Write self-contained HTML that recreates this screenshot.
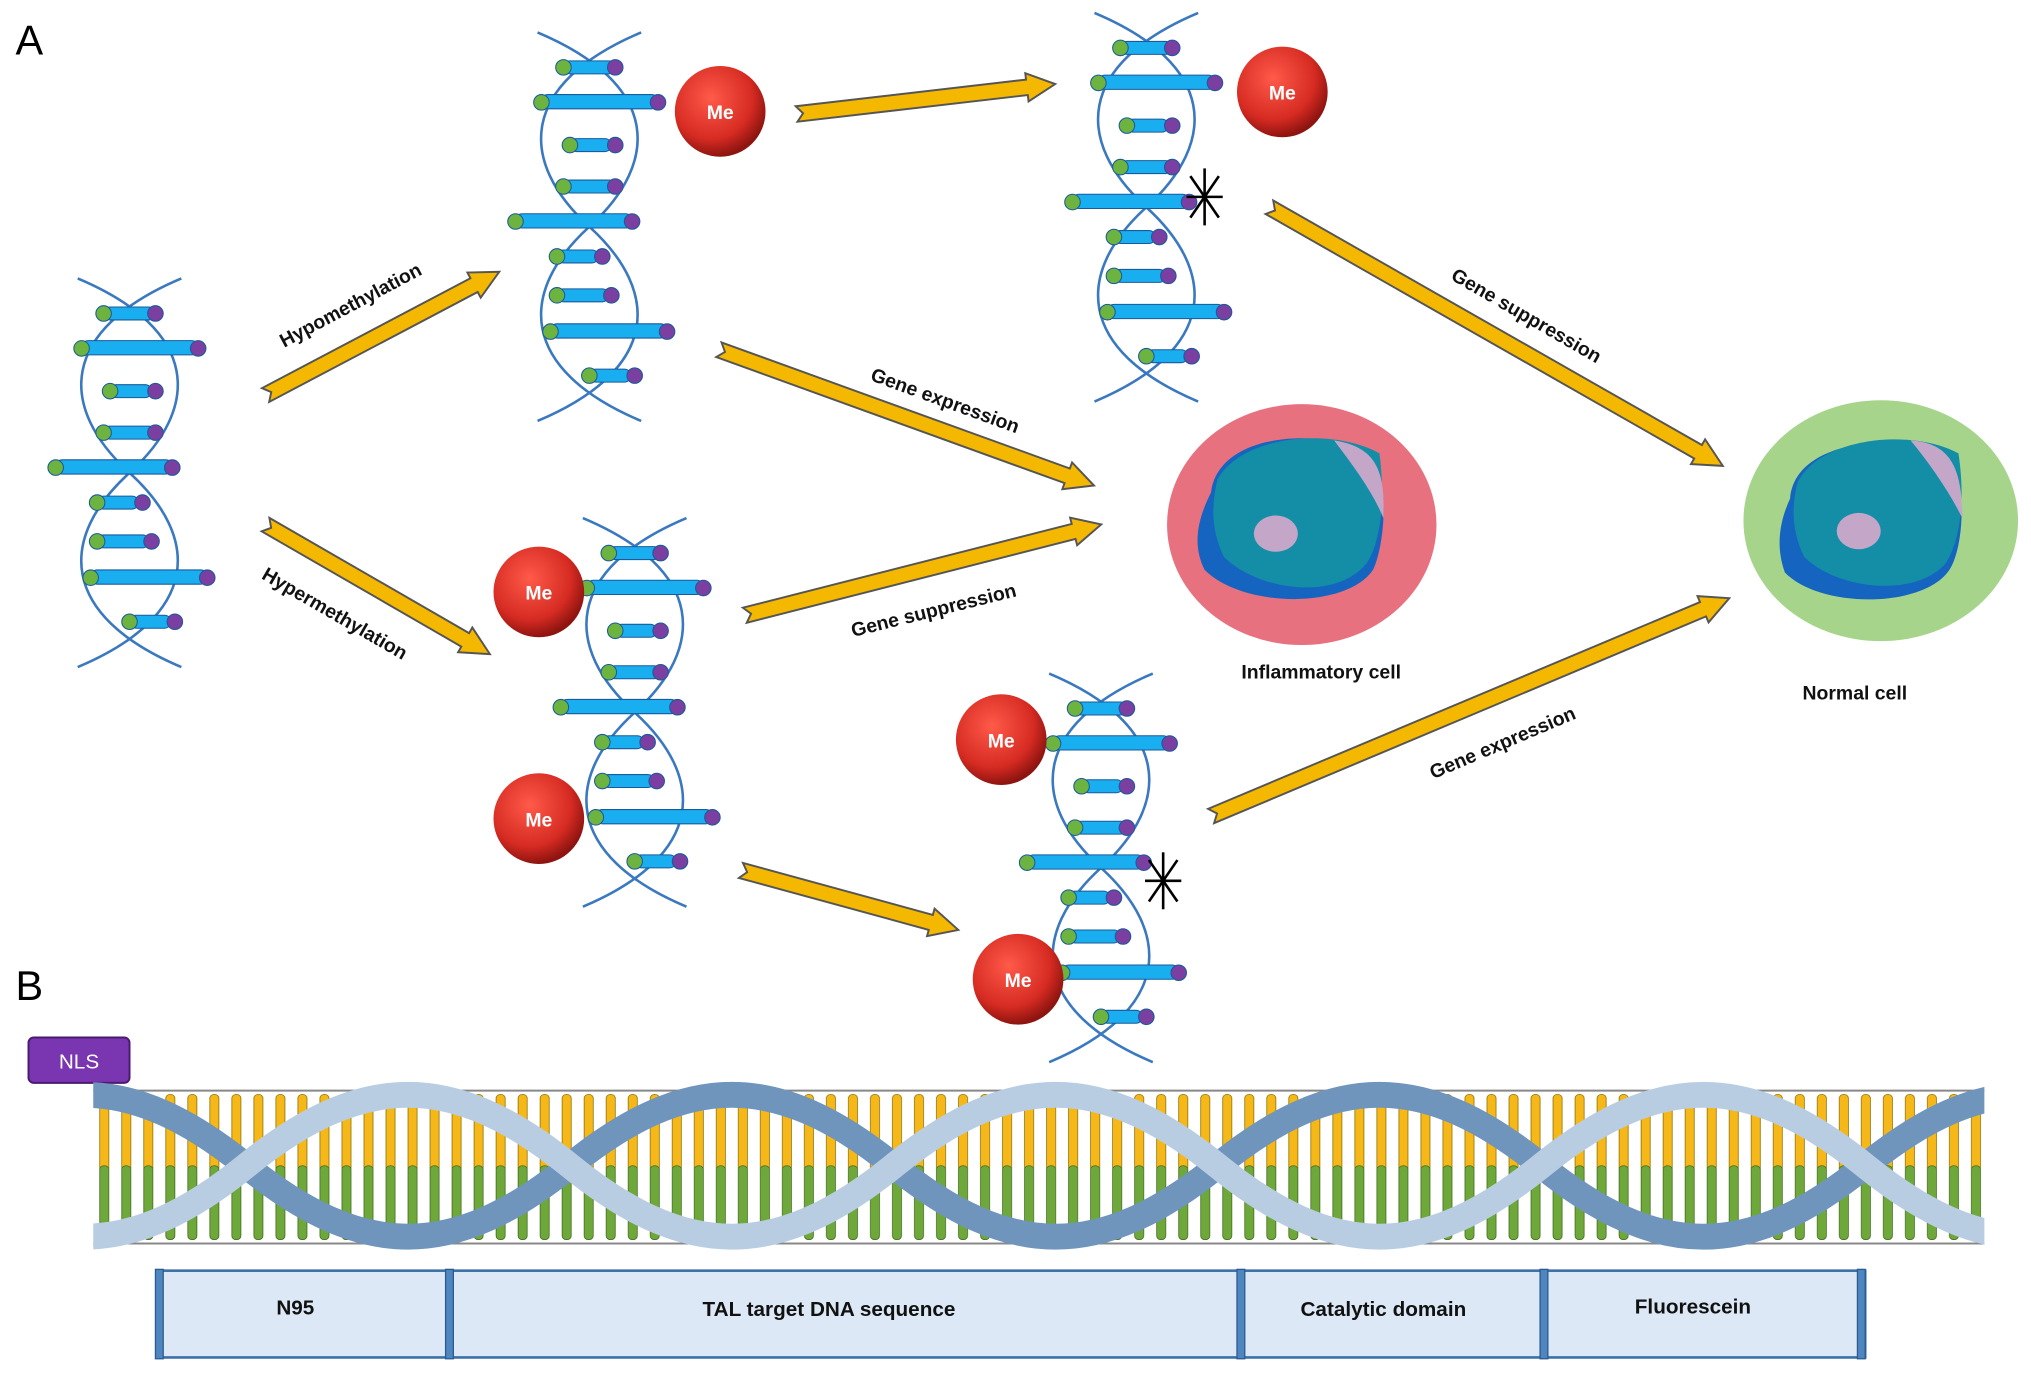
<!DOCTYPE html>
<html><head><meta charset="utf-8"><style>
html,body{margin:0;padding:0;background:#fff;}
svg{display:block;}
text{font-family:"Liberation Sans",Arial,sans-serif;}
</style></head><body>
<svg width="2031" height="1373" viewBox="0 0 1568 1060" xmlns="http://www.w3.org/2000/svg">
<defs>
<radialGradient id="me" cx="40%" cy="35%" r="65%"><stop offset="0" stop-color="#ff5a4a"/><stop offset="0.7" stop-color="#d62b22"/><stop offset="1" stop-color="#8e1410"/></radialGradient>
<linearGradient id="rib" x1="0" y1="0" x2="0" y2="1"><stop offset="0" stop-color="#e8eef5"/><stop offset="0.5" stop-color="#8fb0d0"/><stop offset="1" stop-color="#3d6a98"/></linearGradient>
<pattern id="rungs" x="72" y="0" width="17" height="1060" patternUnits="userSpaceOnUse">
<rect x="5" y="845" width="7" height="60" rx="3" fill="#f6b818" stroke="#8a7000" stroke-width="0.6"/>
<rect x="5" y="900" width="7" height="57" rx="3" fill="#6fa83a" stroke="#3e6a1a" stroke-width="0.6"/>
</pattern>
<g id="helix">
<path d="M25,0 C120,40 120,100 65,150 C10,200 10,260 105,300" fill="none" stroke="#3a78c0" stroke-width="2"/>
<path d="M105,0 C10,40 10,100 65,150 C120,200 120,260 25,300" fill="none" stroke="#3a78c0" stroke-width="2"/>
<g stroke="#1a5a9a" stroke-width="0.8">
<rect x="45" y="22" width="40" height="10" rx="5" fill="#19aef0"/><circle cx="45" cy="27" r="6" fill="#6db33f"/><circle cx="85" cy="27" r="6" fill="#7a3fa0"/>
<rect x="28" y="48" width="90" height="11" rx="5" fill="#19aef0"/><circle cx="28" cy="54" r="6" fill="#6db33f"/><circle cx="118" cy="54" r="6" fill="#7a3fa0"/>
<rect x="50" y="82" width="32" height="10" rx="5" fill="#19aef0"/><circle cx="50" cy="87" r="6" fill="#6db33f"/><circle cx="85" cy="87" r="6" fill="#7a3fa0"/>
<rect x="45" y="114" width="40" height="10" rx="5" fill="#19aef0"/><circle cx="45" cy="119" r="6" fill="#6db33f"/><circle cx="85" cy="119" r="6" fill="#7a3fa0"/>
<rect x="8" y="140" width="90" height="11" rx="5" fill="#19aef0"/><circle cx="8" cy="146" r="6" fill="#6db33f"/><circle cx="98" cy="146" r="6" fill="#7a3fa0"/>
<rect x="40" y="168" width="32" height="10" rx="5" fill="#19aef0"/><circle cx="40" cy="173" r="6" fill="#6db33f"/><circle cx="75" cy="173" r="6" fill="#7a3fa0"/>
<rect x="40" y="198" width="40" height="10" rx="5" fill="#19aef0"/><circle cx="40" cy="203" r="6" fill="#6db33f"/><circle cx="82" cy="203" r="6" fill="#7a3fa0"/>
<rect x="35" y="225" width="90" height="11" rx="5" fill="#19aef0"/><circle cx="35" cy="231" r="6" fill="#6db33f"/><circle cx="125" cy="231" r="6" fill="#7a3fa0"/>
<rect x="65" y="260" width="32" height="10" rx="5" fill="#19aef0"/><circle cx="65" cy="265" r="6" fill="#6db33f"/><circle cx="100" cy="265" r="6" fill="#7a3fa0"/>
</g>
</g>
<g id="star" stroke="#000" stroke-width="2"><line x1="0" y1="-22" x2="0" y2="22"/><line x1="-14" y1="0" x2="14" y2="0"/><line x1="-11" y1="-16" x2="11" y2="16"/><line x1="-11" y1="16" x2="11" y2="-16"/></g>
</defs>

<text x="12" y="42" font-size="32">A</text>
<text x="12" y="772" font-size="32">B</text>

<use href="#helix" transform="translate(35,215)"/>
<use href="#helix" transform="translate(390,25)"/>
<use href="#helix" transform="translate(820,10)"/>
<use href="#helix" transform="translate(425,400)"/>
<use href="#helix" transform="translate(785,520)"/>

<g font-weight="bold" font-size="15" fill="#fff" text-anchor="middle">
<circle cx="556" cy="86" r="35" fill="url(#me)"/><text x="556" y="92">Me</text>
<circle cx="990" cy="71" r="35" fill="url(#me)"/><text x="990" y="77">Me</text>
<circle cx="416" cy="457" r="35" fill="url(#me)"/><text x="416" y="463">Me</text>
<circle cx="416" cy="632" r="35" fill="url(#me)"/><text x="416" y="638">Me</text>
<circle cx="773" cy="571" r="35" fill="url(#me)"/><text x="773" y="577">Me</text>
<circle cx="786" cy="756" r="35" fill="url(#me)"/><text x="786" y="762">Me</text>
</g>
<use href="#star" transform="translate(930,152)"/>
<use href="#star" transform="translate(898,680)"/>

<g fill="#f5b800" stroke="#555" stroke-width="1.5">
<polygon transform="translate(205,305) rotate(-27.8)" points="0,-6 182,-6 182,-11 204,0 182,11 182,6 0,6 5,0"/>
<polygon transform="translate(205,405) rotate(30)" points="0,-6 178,-6 178,-11 200,0 178,11 178,6 0,6 5,0"/>
<polygon transform="translate(615,88) rotate(-6.6)" points="0,-6 179,-6 179,-11 201,0 179,11 179,6 0,6 5,0"/>
<polygon transform="translate(555,270) rotate(19.9)" points="0,-6 286,-6 286,-11 308,0 286,11 286,6 0,6 5,0"/>
<polygon transform="translate(575,475) rotate(-14.3)" points="0,-6 262,-6 262,-11 284,0 262,11 262,6 0,6 5,0"/>
<polygon transform="translate(980,160) rotate(29.7)" points="0,-6 381,-6 381,-11 403,0 381,11 381,6 0,6 5,0"/>
<polygon transform="translate(935,630) rotate(-22.8)" points="0,-6 412,-6 412,-11 434,0 412,11 412,6 0,6 5,0"/>
<polygon transform="translate(572,672) rotate(15.3)" points="0,-6 152,-6 152,-11 174,0 152,11 152,6 0,6 5,0"/>
</g>
<g font-weight="bold" font-size="15" text-anchor="middle" fill="#111">
<text transform="translate(273,240) rotate(-28)">Hypomethylation</text>
<text transform="translate(256,478) rotate(30)">Hypermethylation</text>
<text transform="translate(728,314) rotate(20)">Gene expression</text>
<text transform="translate(722,476) rotate(-14)">Gene suppression</text>
<text transform="translate(1176,248) rotate(30)">Gene suppression</text>
<text transform="translate(1162,578) rotate(-23)">Gene expression</text>
<text x="1020" y="524">Inflammatory cell</text>
<text x="1432" y="540">Normal cell</text>
</g>

<!-- cells -->
<ellipse cx="1005" cy="405" rx="104" ry="93" fill="#e8717f"/>
<path d="M935,380 C940,340 1000,330 1050,345 C1075,355 1070,420 1060,440 C1040,470 960,470 930,440 C920,420 925,400 935,380Z" fill="#1565c0"/>
<path d="M940,370 C960,335 1030,330 1065,350 C1070,390 1065,420 1055,435 C1030,465 970,455 945,430 C935,410 935,390 940,370Z" fill="#138ea6"/>
<path d="M1030,340 C1060,345 1070,360 1068,400 C1060,380 1045,360 1030,340Z" fill="#c4a6c9"/>
<ellipse cx="985" cy="412" rx="17" ry="14" fill="#c4a6c9"/>

<ellipse cx="1452" cy="402" rx="106" ry="93" fill="#a6d48a"/>
<path d="M1382,385 C1385,345 1445,335 1495,345 C1520,355 1518,420 1505,440 C1485,470 1405,470 1378,442 C1370,420 1375,400 1382,385Z" fill="#1565c0"/>
<path d="M1388,372 C1405,338 1475,330 1512,350 C1518,390 1512,420 1502,435 C1478,462 1418,455 1393,430 C1383,410 1383,390 1388,372Z" fill="#138ea6"/>
<path d="M1475,340 C1505,342 1515,360 1515,400 C1505,380 1490,358 1475,340Z" fill="#c4a6c9"/>
<ellipse cx="1435" cy="410" rx="17" ry="14" fill="#c4a6c9"/>

<!-- Part B -->
<rect x="22" y="801" width="78" height="35" rx="4" fill="#7a35b0" stroke="#4a1a70" stroke-width="1.5"/>
<text x="61" y="825" font-size="16" fill="#fff" text-anchor="middle">NLS</text>

<rect x="72" y="843" width="1458" height="116" fill="url(#rungs)"/>
<line x1="72" y1="842" x2="1532" y2="842" stroke="#888" stroke-width="1.5"/>
<line x1="72" y1="960" x2="1532" y2="960" stroke="#888" stroke-width="1.5"/>
<clipPath id="cb"><rect x="72" y="830" width="1460" height="140"/></clipPath>
<g clip-path="url(#cb)" fill="none" stroke-width="20" stroke-linecap="butt">
<path d="M-60,900 C30,827 100,827 190,900 C280,973 350,973 440,900 C530,827 600,827 690,900 C780,973 850,973 940,900 C1030,827 1100,827 1190,900 C1280,973 1350,973 1440,900 C1530,827 1600,827 1690,900" stroke="#6f95bd"/>
<path d="M-60,900 C30,973 100,973 190,900 C280,827 350,827 440,900 C530,973 600,973 690,900 C780,827 850,827 940,900 C1030,973 1100,973 1190,900 C1280,827 1350,827 1440,900 C1530,973 1600,973 1690,900" stroke="#b9cde2"/>
</g>

<rect x="121" y="981" width="1319" height="67" fill="#dce8f5" stroke="#3a6fa8" stroke-width="2"/>
<g fill="#4f86c0" stroke="#2a5a90" stroke-width="1">
<rect x="120" y="980" width="6" height="69"/><rect x="344" y="980" width="6" height="69"/><rect x="955" y="980" width="6" height="69"/><rect x="1189" y="980" width="6" height="69"/><rect x="1434" y="980" width="6" height="69"/>
</g>
<g font-weight="bold" font-size="16" text-anchor="middle" fill="#111">
<text x="228" y="1015">N95</text>
<text x="640" y="1016">TAL target DNA sequence</text>
<text x="1068" y="1016">Catalytic domain</text>
<text x="1307" y="1014">Fluorescein</text>
</g>
</svg>
</body></html>
